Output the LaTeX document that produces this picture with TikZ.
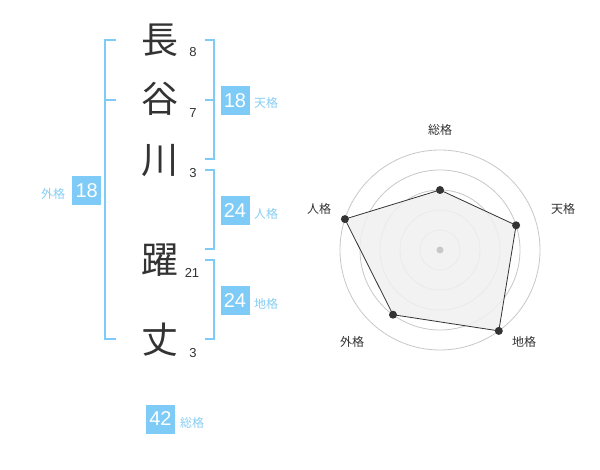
\documentclass[tikz,border=0pt]{standalone}
\usepackage{fontspec}
\setmainfont{Liberation Sans}
\newfontfamily\jp{Noto Sans CJK JP}
\definecolor{sky}{RGB}{125,203,246}
\definecolor{skytxt}{RGB}{135,206,245}
\definecolor{ink}{RGB}{51,51,51}
\definecolor{ring}{RGB}{200,200,200}
\definecolor{area}{RGB}{240,240,240}
\begin{document}
\begin{tikzpicture}[x=1pt,y=-1pt,
  kanji/.style={font=\jp\fontsize{37}{37}\selectfont, text=ink, inner sep=0pt},
  strokes/.style={font=\fontsize{13}{13}\selectfont, text=ink, inner sep=0pt},
  valbox/.style={fill=sky, text=white, minimum width=29pt, minimum height=29pt, inner sep=0pt, font=\fontsize{20}{20}\selectfont},
  grplabel/.style={font=\jp\fontsize{12}{12}\selectfont, text=skytxt, inner sep=0pt},
  bracket/.style={draw=sky, line width=2pt},
  radarlabel/.style={font=\jp\fontsize{12}{12}\selectfont, text=ink, inner sep=0pt},
  ringline/.style={draw=ring, line width=0.8pt},
  dot/.style={circle, fill=ink, minimum size=8pt, inner sep=0pt}]
\useasboundingbox (0,0) rectangle (600,470);
\fill[white] (0,0) rectangle (600,470);

% name characters
\node[kanji] (k1) at (160,40) {長};
\node[kanji] (k2) at (160,99) {谷};
\node[kanji] (k3) at (160,161) {川};
\node[kanji] (k4) at (160,260) {躍};
\node[kanji] (k5) at (160,340) {丈};
\node[strokes] (s1) at (193,52.5) {8};
\node[strokes] (s2) at (193,113) {7};
\node[strokes] (s3) at (193,173) {3};
\node[strokes] (s4) at (192,272.5) {21};
\node[strokes] (s5) at (193,353) {3};

% brackets
\coordinate (gL1) at (116,40);  \coordinate (gL2) at (105,40);
\coordinate (gL3) at (105,339); \coordinate (gL4) at (116,339);
\coordinate (gLm1) at (105,100); \coordinate (gLm2) at (116,100);
\draw[bracket] (gL1) -- (gL2) -- (gL3) -- (gL4);
\draw[bracket] (gLm1) -- (gLm2);

\coordinate (tA) at (205,40);  \coordinate (tB) at (214,40);
\coordinate (tC) at (214,159); \coordinate (tD) at (205,159);
\coordinate (tM1) at (205,100); \coordinate (tM2) at (214,100);
\draw[bracket] (tA) -- (tB) -- (tC) -- (tD);
\draw[bracket] (tM1) -- (tM2);

\coordinate (jA) at (205,170); \coordinate (jB) at (214,170);
\coordinate (jC) at (214,249); \coordinate (jD) at (205,249);
\draw[bracket] (jA) -- (jB) -- (jC) -- (jD);

\coordinate (cA) at (205,260); \coordinate (cB) at (214,260);
\coordinate (cC) at (214,339); \coordinate (cD) at (205,339);
\draw[bracket] (cA) -- (cB) -- (cC) -- (cD);

% value boxes
\node[valbox] (ten) at (235,100.5) {18};
\node[grplabel, anchor=west] (tenL) at (254,103) {天格};
\node[valbox] (jin) at (235,210.5) {24};
\node[grplabel, anchor=west] (jinL) at (254,213.5) {人格};
\node[valbox] (chi) at (235,300.5) {24};
\node[grplabel, anchor=west] (chiL) at (254,303.5) {地格};
\node[valbox] (gai) at (86.7,190.5) {18};
\node[grplabel] (gaiL) at (53,193.5) {外格};
\node[valbox] (sou) at (160.5,419) {42};
\node[grplabel, anchor=west] (souL) at (180,422.5) {総格};

% radar chart
\coordinate (ctr) at (440,250);
\foreach \r in {20,40,60,80,100} \draw[ringline] (ctr) circle[radius=\r];
\coordinate (pS) at (440,190);
\coordinate (pT) at (516.1,225.3);
\coordinate (pC) at (498.8,330.9);
\coordinate (pG) at (393,314.7);
\coordinate (pJ) at (344.9,219.1);
\filldraw[fill=area, fill opacity=0.85, draw=ink, line width=0.8pt] (pS) -- (pT) -- (pC) -- (pG) -- (pJ) -- cycle;
\fill[ring] (ctr) circle[radius=3.5];
\foreach \p in {pS,pT,pC,pG,pJ} \node[dot] (d\p) at (\p) {};
\node[radarlabel] (lS) at (440,130) {総格};
\node[radarlabel] (lT) at (563,209) {天格};
\node[radarlabel] (lC) at (524,342) {地格};
\node[radarlabel] (lG) at (352,342) {外格};
\node[radarlabel] (lJ) at (319,209) {人格};
\end{tikzpicture}
\end{document}
